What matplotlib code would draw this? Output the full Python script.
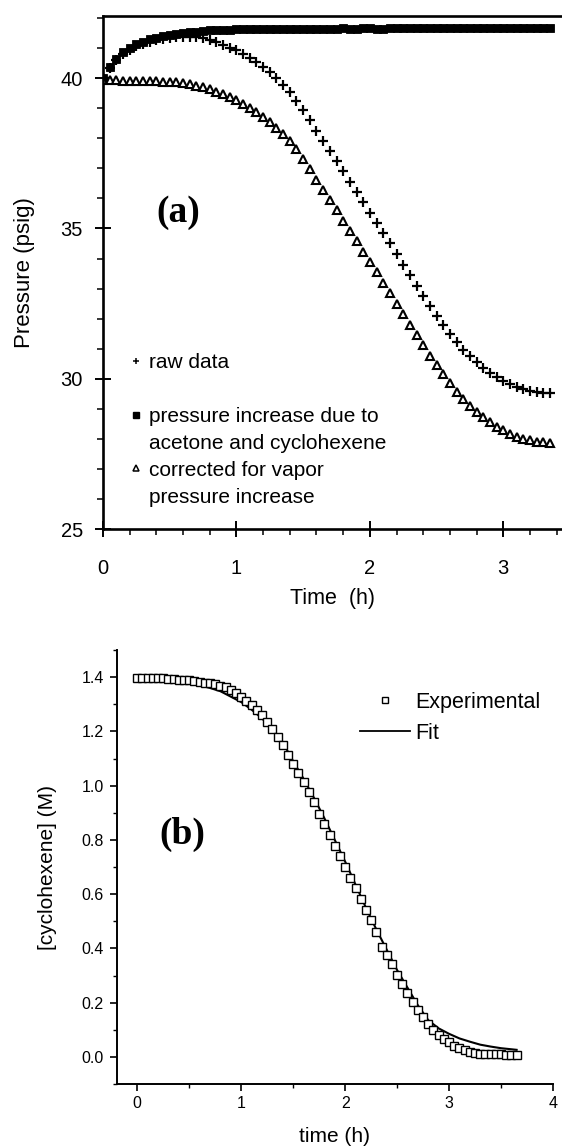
import matplotlib
matplotlib.use("Agg")
import matplotlib.pyplot as plt
from matplotlib.ticker import MultipleLocator, FormatStrFormatter
from matplotlib.lines import Line2D

plt.rcParams['font.family'] = ['Liberation Sans', 'DejaVu Sans']

# ---------------- Panel (a) data ----------------
time_a = [0.00, 0.05, 0.10, 0.15, 0.20, 0.25, 0.30, 0.35, 0.40, 0.45,
          0.50, 0.55, 0.60, 0.65, 0.70, 0.75, 0.80, 0.85, 0.90, 0.95,
          1.00, 1.05, 1.10, 1.15, 1.20, 1.25, 1.30, 1.35, 1.40, 1.45,
          1.50, 1.55, 1.60, 1.65, 1.70, 1.75, 1.80, 1.85, 1.90, 1.95,
          2.00, 2.05, 2.10, 2.15, 2.20, 2.25, 2.30, 2.35, 2.40, 2.45,
          2.50, 2.55, 2.60, 2.65, 2.70, 2.75, 2.80, 2.85, 2.90, 2.95,
          3.00, 3.05, 3.10, 3.15, 3.20, 3.25, 3.30, 3.35]

raw_data = [39.95, 40.33, 40.60, 40.80, 40.95, 41.07, 41.15, 41.22, 41.27, 41.31,
            41.34, 41.36, 41.37, 41.37, 41.36, 41.33, 41.28, 41.20, 41.11, 41.02,
            40.93, 40.82, 40.68, 40.53, 40.37, 40.20, 40.00, 39.78, 39.53, 39.25,
            38.95, 38.60, 38.25, 37.92, 37.58, 37.24, 36.90, 36.56, 36.22, 35.87,
            35.53, 35.19, 34.85, 34.50, 34.15, 33.80, 33.45, 33.10, 32.76, 32.42,
            32.10, 31.80, 31.50, 31.22, 30.97, 30.75, 30.55, 30.37, 30.20, 30.05,
            29.93, 29.82, 29.72, 29.65, 29.60, 29.56, 29.53, 29.51]

vapor_increase = [40.00, 40.38, 40.65, 40.86, 41.01, 41.13, 41.22, 41.29, 41.35, 41.40,
                  41.44, 41.47, 41.50, 41.53, 41.55, 41.57, 41.59, 41.60, 41.61, 41.62,
                  41.63, 41.64, 41.64, 41.64, 41.65, 41.65, 41.65, 41.65, 41.65, 41.65,
                  41.65, 41.65, 41.65, 41.65, 41.65, 41.65, 41.66, 41.65, 41.65, 41.66,
                  41.66, 41.65, 41.65, 41.66, 41.66, 41.66, 41.66, 41.66, 41.66, 41.66,
                  41.66, 41.66, 41.66, 41.66, 41.66, 41.66, 41.66, 41.66, 41.66, 41.66,
                  41.66, 41.66, 41.66, 41.66, 41.66, 41.66, 41.66, 41.66]

corrected = [39.93, 39.93, 39.93, 39.92, 39.92, 39.92, 39.91, 39.91, 39.90, 39.89,
             39.88, 39.86, 39.84, 39.80, 39.75, 39.70, 39.63, 39.55, 39.46, 39.37,
             39.27, 39.15, 39.01, 38.86, 38.70, 38.53, 38.34, 38.13, 37.90, 37.63,
             37.32, 36.97, 36.62, 36.28, 35.94, 35.60, 35.26, 34.92, 34.58, 34.23,
             33.89, 33.55, 33.20, 32.85, 32.50, 32.15, 31.80, 31.45, 31.11, 30.77,
             30.45, 30.15, 29.85, 29.57, 29.32, 29.10, 28.90, 28.72, 28.55, 28.40,
             28.28, 28.17, 28.07, 28.00, 27.95, 27.91, 27.88, 27.86]

# ---------------- Panel (b) data ----------------
time_b = [0.00, 0.05, 0.10, 0.15, 0.20, 0.25, 0.30, 0.35, 0.40, 0.45,
          0.50, 0.55, 0.60, 0.65, 0.70, 0.75, 0.80, 0.85, 0.90, 0.95,
          1.00, 1.05, 1.10, 1.15, 1.20, 1.25, 1.30, 1.35, 1.40, 1.45,
          1.50, 1.55, 1.60, 1.65, 1.70, 1.75, 1.80, 1.85, 1.90, 1.95,
          2.00, 2.05, 2.10, 2.15, 2.20, 2.25, 2.30, 2.35, 2.40, 2.45,
          2.50, 2.55, 2.60, 2.65, 2.70, 2.75, 2.80, 2.85, 2.90, 2.95,
          3.00, 3.05, 3.10, 3.15, 3.20, 3.25, 3.30, 3.35, 3.40, 3.45,
          3.50, 3.55, 3.60, 3.65]

experimental = [1.397, 1.397, 1.396, 1.396, 1.395, 1.395, 1.394, 1.392, 1.391, 1.390,
                1.388, 1.386, 1.383, 1.380, 1.377, 1.373, 1.368, 1.362, 1.352, 1.342,
                1.328, 1.313, 1.297, 1.279, 1.259, 1.235, 1.208, 1.180, 1.148, 1.113,
                1.078, 1.046, 1.013, 0.978, 0.940, 0.895, 0.857, 0.818, 0.779, 0.740,
                0.700, 0.661, 0.622, 0.583, 0.543, 0.503, 0.460, 0.405, 0.375, 0.343,
                0.303, 0.268, 0.234, 0.204, 0.173, 0.146, 0.122, 0.100, 0.082, 0.067,
                0.053, 0.041, 0.032, 0.025, 0.019, 0.015, 0.012, 0.011, 0.010, 0.009,
                0.009, 0.008, 0.008, 0.007]

fit_time = [0.00, 0.20, 0.40, 0.60, 0.80, 1.00, 1.10, 1.20, 1.30, 1.40,
            1.50, 1.60, 1.70, 1.80, 1.90, 2.00, 2.10, 2.20, 2.30, 2.40,
            2.50, 2.60, 2.70, 2.80, 2.90, 3.00, 3.10, 3.20, 3.30, 3.40,
            3.50, 3.65]
fit_conc = [1.395, 1.393, 1.386, 1.372, 1.348, 1.308, 1.280, 1.248, 1.208, 1.160,
            1.090, 1.025, 0.955, 0.880, 0.800, 0.720, 0.635, 0.550, 0.470, 0.395,
            0.320, 0.255, 0.190, 0.135, 0.105, 0.085, 0.068, 0.056, 0.045, 0.038,
            0.032, 0.026]

W, H = 562, 1147
fig = plt.figure(figsize=(W / 100, H / 100), dpi=100)

def ax_rect(left, top, right, bottom):
    return [left / W, 1 - bottom / H, (right - left) / W, (bottom - top) / H]

# ================= Panel (a) =================
ax1 = fig.add_axes(ax_rect(103, 15.7, 562, 529))
ax1.plot(time_a, raw_data, linestyle='none', marker='+', markersize=6.5,
         markeredgewidth=1.6, color='black', label='raw data')
ax1.plot(time_a, vapor_increase, linestyle='none', marker='s', markersize=5.4,
         markeredgewidth=0.6, color='black', label='pressure increase due to')
ax1.plot(time_a, corrected, linestyle='none', marker='^', markersize=5.8,
         markeredgewidth=1.5, markerfacecolor='white', markeredgecolor='black',
         label='corrected for vapor')

ax1.set_xlim(0, 3.44)
ax1.set_ylim(25, 42.08)
ax1.xaxis.set_major_locator(MultipleLocator(1))
ax1.xaxis.set_minor_locator(MultipleLocator(0.2))
ax1.yaxis.set_major_locator(MultipleLocator(5))
ax1.yaxis.set_minor_locator(MultipleLocator(1))
ax1.spines['right'].set_visible(False)
for s in ('left', 'bottom', 'top'):
    ax1.spines[s].set_linewidth(1.9)
ax1.tick_params(axis='x', which='major', direction='inout', length=11, width=1.4,
                labelsize=14.5, pad=16)
ax1.tick_params(axis='x', which='minor', direction='out', length=4.5, width=1.1)
ax1.tick_params(axis='y', which='major', direction='inout', length=11, width=1.4,
                labelsize=14.5, pad=9)
ax1.tick_params(axis='y', which='minor', direction='out', length=4.5, width=1.1)
ax1.set_xlabel('Time  (h)', fontsize=15.5)
ax1.xaxis.set_label_coords(0.5, -(598 - 529) / 513.3)
ax1.xaxis.label.set_va('center')
ax1.set_ylabel('Pressure (psig)', fontsize=16)
ax1.yaxis.set_label_coords((25 - 103) / 459, 0.5)
ax1.yaxis.label.set_va('center')
ax1.text((178 - 103) / 459, (529 - 212) / 513.3, '(a)', transform=ax1.transAxes,
         fontsize=27, fontweight='bold', family='Liberation Serif',
         ha='center', va='center')

blank = Line2D([], [], linestyle='none', marker='none')
h_raw = Line2D([], [], linestyle='none', marker='+', markersize=5,
               markeredgewidth=1.1, color='black')
h_sq = Line2D([], [], linestyle='none', marker='s', markersize=4.4, color='black')
h_tri = Line2D([], [], linestyle='none', marker='^', markersize=4.6,
               markeredgewidth=1.1, markerfacecolor='white', markeredgecolor='black')
ax1.legend([h_raw, blank, h_sq, blank, h_tri, blank],
           ['raw data', ' ', 'pressure increase due to', 'acetone and cyclohexene',
            'corrected for vapor', 'pressure increase'],
           loc='upper left', bbox_to_anchor=((130 - 103) / 459, (529 - 353) / 513.3),
           frameon=False, fontsize=15, handlelength=0.6, handletextpad=0.3,
           borderpad=0, borderaxespad=0, labelspacing=0.38)

# ================= Panel (b) =================
ax2 = fig.add_axes(ax_rect(116.5, 650, 553, 1084))
ax2.plot(fit_time, fit_conc, color='black', linewidth=1.5, label='Fit', zorder=2)
ax2.plot(time_b, experimental, linestyle='none', marker='s', markersize=5.2,
         markeredgewidth=1.0, markerfacecolor='white', markeredgecolor='black',
         label='Experimental', zorder=3)
ax2.set_xlim(-0.2, 4.0)
ax2.set_ylim(-0.1, 1.5)
ax2.xaxis.set_major_locator(MultipleLocator(1))
ax2.xaxis.set_minor_locator(MultipleLocator(0.5))
ax2.yaxis.set_major_locator(MultipleLocator(0.2))
ax2.yaxis.set_minor_locator(MultipleLocator(0.1))
ax2.yaxis.set_major_formatter(FormatStrFormatter('%.1f'))
ax2.spines['right'].set_visible(False)
ax2.spines['top'].set_visible(False)
for s in ('left', 'bottom'):
    ax2.spines[s].set_linewidth(1.4)
ax2.tick_params(axis='both', which='major', direction='out', length=5, width=1.2,
                labelsize=11.5, pad=4)
ax2.tick_params(axis='both', which='minor', direction='out', length=3, width=1.0)
ax2.set_xlabel('time (h)', fontsize=15)
ax2.xaxis.set_label_coords(0.5, -(1137 - 1084) / 434)
ax2.xaxis.label.set_va('center')
ax2.set_ylabel('[cyclohexene] (M)', fontsize=15)
ax2.yaxis.set_label_coords((48 - 116.5) / 436.5, 0.5)
ax2.yaxis.label.set_va('center')
ax2.text((182 - 116.5) / 436.5, (1084 - 834) / 434, '(b)', transform=ax2.transAxes,
         fontsize=27, fontweight='bold', family='Liberation Serif',
         ha='center', va='center')

h_exp = Line2D([], [], linestyle='none', marker='s', markersize=4.2,
               markeredgewidth=1.0, markerfacecolor='white', markeredgecolor='black')
h_fit = Line2D([], [], color='black', linewidth=1.3)
ax2.legend([h_exp, h_fit], ['Experimental', 'Fit'], loc='upper left',
           bbox_to_anchor=((360 - 116.5) / 436.5, (1084 - 692) / 434),
           frameon=False, fontsize=15.5, handlelength=2.3, handletextpad=0.25,
           borderpad=0, borderaxespad=0, labelspacing=0.45)

fig.savefig('out.png', dpi=100)
